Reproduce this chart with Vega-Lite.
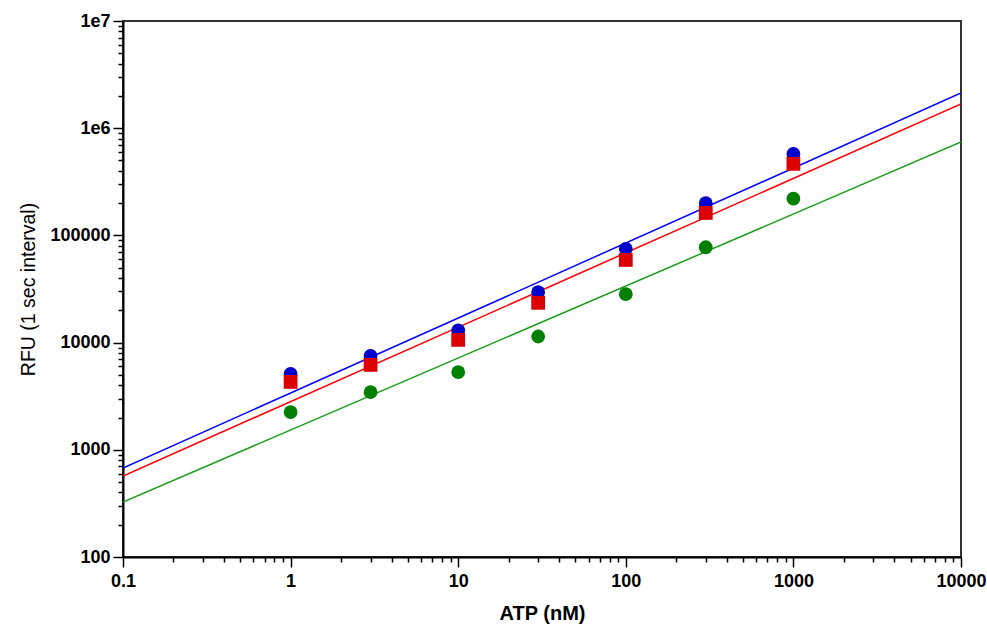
{
  "$schema": "https://vega.github.io/schema/vega-lite/v6.json",
  "autosize": "none",
  "width": 838,
  "height": 536,
  "padding": {"left": 123, "top": 21, "right": 26, "bottom": 75},
  "background": "white",
  "config": {
    "view": {"stroke": "#333333", "strokeWidth": 2},
    "axis": {"grid": false, "labelFont": "Liberation Sans", "titleFont": "Liberation Sans", "labelColor": "black", "titleColor": "black", "tickColor": "black", "domainColor": "black"}
  },
  "datasets": {
    "lines": [
      {"series": "blue", "atp": 0.1, "rfu": 676},
      {"series": "blue", "atp": 10000, "rfu": 2130000},
      {"series": "red", "atp": 0.1, "rfu": 570},
      {"series": "red", "atp": 10000, "rfu": 1680000},
      {"series": "green", "atp": 0.1, "rfu": 326},
      {"series": "green", "atp": 10000, "rfu": 743000}
    ],
    "points": [
      {"series": "blue", "atp": 1, "rfu": 5100},
      {"series": "blue", "atp": 3, "rfu": 7500},
      {"series": "blue", "atp": 10, "rfu": 13000},
      {"series": "blue", "atp": 30, "rfu": 29500},
      {"series": "blue", "atp": 100, "rfu": 75000},
      {"series": "blue", "atp": 300, "rfu": 200000},
      {"series": "blue", "atp": 1000, "rfu": 575000},
      {"series": "red", "atp": 1, "rfu": 4300},
      {"series": "red", "atp": 3, "rfu": 6200},
      {"series": "red", "atp": 10, "rfu": 10600},
      {"series": "red", "atp": 30, "rfu": 23500},
      {"series": "red", "atp": 100, "rfu": 59000},
      {"series": "red", "atp": 300, "rfu": 162000},
      {"series": "red", "atp": 1000, "rfu": 465000},
      {"series": "green", "atp": 1, "rfu": 2250},
      {"series": "green", "atp": 3, "rfu": 3450},
      {"series": "green", "atp": 10, "rfu": 5300},
      {"series": "green", "atp": 30, "rfu": 11400},
      {"series": "green", "atp": 100, "rfu": 28300},
      {"series": "green", "atp": 300, "rfu": 77500},
      {"series": "green", "atp": 1000, "rfu": 220000}
    ]
  },
  "layer": [
    {
      "data": {"name": "lines"},
      "mark": {"type": "line", "strokeWidth": 1.5, "clip": true},
      "encoding": {
        "x": {"field": "atp", "type": "quantitative",
          "scale": {"type": "log", "domain": [0.1, 10000], "nice": false},
          "axis": {"orient": "bottom", "values": [0.1, 1, 10, 100, 1000, 10000], "labelExpr": "format(datum.value, '~g')",
            "tickSize": 10, "tickWidth": 1.5, "domainWidth": 2, "labelFontSize": 18, "labelFontWeight": "bold", "labelPadding": 5,
            "labelFlush": false, "labelOverlap": false, "labelBound": false,
            "title": "ATP (nM)", "titleFontSize": 20, "titleFontWeight": "bold", "titlePadding": 13}},
        "y": {"field": "rfu", "type": "quantitative",
          "scale": {"type": "log", "domain": [100, 10000000], "nice": false},
          "axis": {"orient": "left", "values": [100, 1000, 10000, 100000, 1000000, 10000000],
            "labelExpr": "datum.value >= 1000000 ? '1e' + round(log(datum.value)/LN10) : format(datum.value, 'd')",
            "tickSize": 10, "tickWidth": 1.5, "domainWidth": 2, "labelFontSize": 18, "labelFontWeight": "bold", "labelPadding": 3,
            "labelFlush": false, "labelOverlap": false, "labelBound": false,
            "title": "RFU (1 sec interval)", "titleFontSize": 19.5, "titleFontWeight": "normal", "titlePadding": 11}},
        "color": {"field": "series", "type": "nominal",
          "scale": {"domain": ["blue", "red", "green"], "range": ["#0000ff", "#ff0000", "#1a9e1a"]}, "legend": null},
        "detail": {"field": "series"}
      }
    },
    {
      "data": {"name": "points"},
      "mark": {"type": "point", "filled": true, "opacity": 1, "size": 190},
      "encoding": {
        "x": {"field": "atp", "type": "quantitative",
          "scale": {"type": "log", "domain": [0.1, 10000], "nice": false},
          "axis": {"orient": "bottom", "values": [0.2, 0.3, 0.4, 0.5, 0.6, 0.7, 0.8, 0.9, 2, 3, 4, 5, 6, 7, 8, 9, 20, 30, 40, 50, 60, 70, 80, 90, 200, 300, 400, 500, 600, 700, 800, 900, 2000, 3000, 4000, 5000, 6000, 7000, 8000, 9000],
            "labels": false, "domain": false, "tickSize": 5, "tickWidth": 1.5, "title": null}},
        "y": {"field": "rfu", "type": "quantitative",
          "scale": {"type": "log", "domain": [100, 10000000], "nice": false},
          "axis": {"orient": "left", "values": [200, 300, 400, 500, 600, 700, 800, 900, 2000, 3000, 4000, 5000, 6000, 7000, 8000, 9000, 20000, 30000, 40000, 50000, 60000, 70000, 80000, 90000, 200000, 300000, 400000, 500000, 600000, 700000, 800000, 900000, 2000000, 3000000, 4000000, 5000000, 6000000, 7000000, 8000000, 9000000],
            "labels": false, "domain": false, "tickSize": 5, "tickWidth": 1.5, "title": null}},
        "color": {"field": "series", "type": "nominal",
          "scale": {"domain": ["blue", "red", "green"], "range": ["#0000cc", "#dd0000", "#008000"]}, "legend": null},
        "shape": {"field": "series", "type": "nominal",
          "scale": {"domain": ["blue", "red", "green"], "range": ["circle", "square", "circle"]}, "legend": null}
      }
    }
  ],
  "resolve": {"axis": {"x": "independent", "y": "independent"}, "scale": {"color": "independent"}}
}
